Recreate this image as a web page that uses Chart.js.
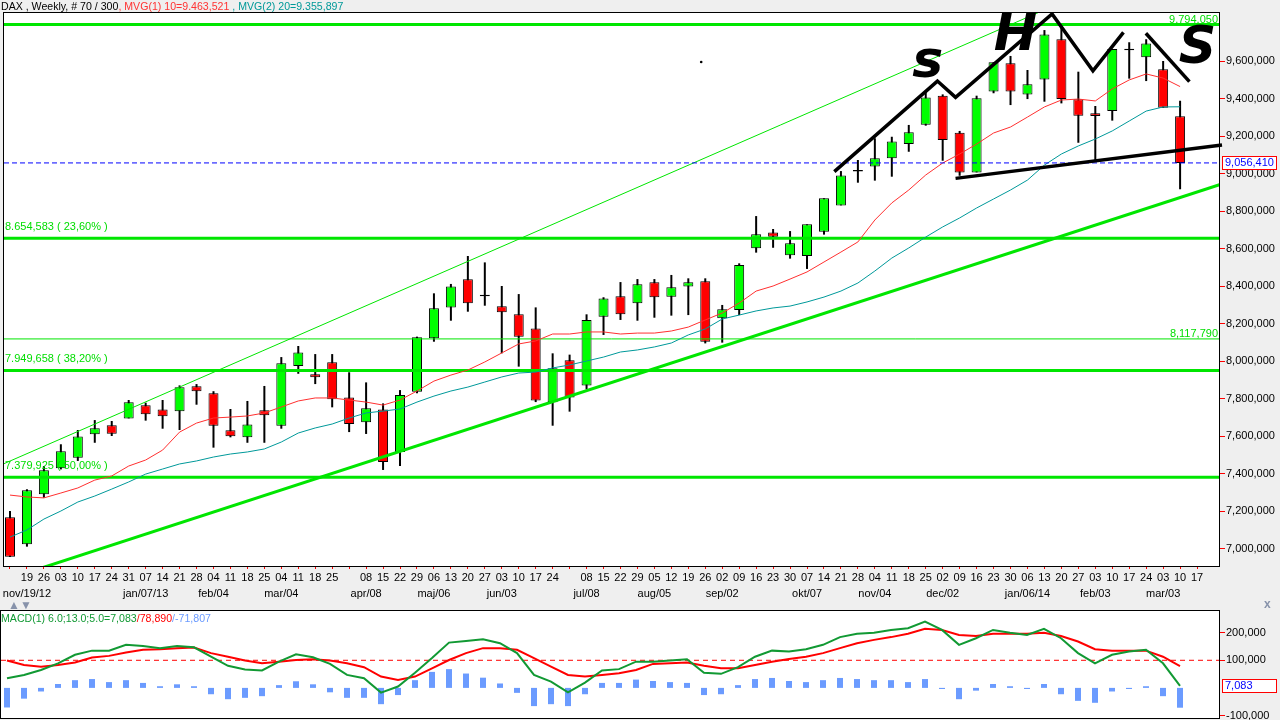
<!DOCTYPE html>
<html>
<head>
<meta charset="utf-8">
<script src="https://cdn.jsdelivr.net/npm/chart.js@4/dist/chart.umd.min.js"></script>
<style>
html, body { margin: 0; padding: 0; background: #efefef; }
body { width: 1280px; height: 720px; position: relative; overflow: hidden;
       font-family: "Liberation Sans", Arial, sans-serif; font-size: 11px; }
canvas { position: absolute; left: 0; }
#main { top: 0; }
#macd { top: 600px; }
.lbl { position: absolute; white-space: pre; line-height: 13px; }
#head, #macdHead { font-size: 10.6px; }
</style>
</head>
<body>
<canvas id="main" width="1280" height="600"></canvas>
<canvas id="macd" width="1280" height="120"></canvas>
<div class="lbl" id="head" style="left:1px;top:0px"></div>
<div class="lbl" style="left:8px;top:599px;color:#8792aa;font-size:12px">&#9650;&#9660;</div>
<div class="lbl" id="macdHead" style="left:1px;top:612px"></div>
<div class="lbl" style="left:1264px;top:598px;color:#8792aa;font-weight:bold;font-size:12px">x</div>
<script>
// DAX weekly, nov/12/12 .. mar/10/14 (70 bars)
const opens  = [7167,7023,7289,7428,7484,7609,7657,7694,7764,7742, 7732,7865,7828,7631,7593,7737,7655,7973,7929,7993,
                7806,7673,7742,7515,7836,8121,8286,8436,8354,8292, 8249,8174,7780,8004,7870,8236,8345,8308,8420,8343,
                8398,8425,8228,8272,8601,8686,8564,8560,8690,8830, 9019,9038,9081,9157,9260,9415,9218,9006,9438,9588,
                9422,9502,9716,9396,9321,9333,9666,9620,9556,9305];
const highs  = [7200,7316,7440,7556,7632,7685,7680,7792,7778,7792, 7870,7877,7839,7744,7787,7867,8021,8080,8037,8037,
                7940,7886,7774,7845,8130,8361,8411,8560,8526,8400, 8357,8286,8041,8034,8249,8340,8421,8437,8437,8459,
                8441,8441,8299,8521,8773,8704,8693,8729,8868,9013, 9072,9188,9196,9259,9436,9422,9227,9415,9593,9627,
                9552,9765,9794,9543,9360,9664,9700,9716,9600,9388];
const lows   = [6955,7010,7271,7422,7467,7564,7600,7694,7682,7639, 7632,7767,7538,7593,7564,7564,7639,7932,7877,7753,
                7621,7611,7419,7440,7828,8103,8215,8263,8295,8041, 7970,7781,7655,7730,7849,8139,8219,8215,8231,8242,
                8245,8094,8098,8245,8578,8604,8546,8491,8674,8830, 8951,8962,8983,9116,9255,9068,8988,9006,9428,9365,
                9397,9383,9374,9164,9072,9282,9506,9493,9351,8916];
const closes = [6956,7311,7417,7519,7598,7641,7612,7780,7716,7705, 7860,7839,7655,7599,7662,7711,7988,8046,7913,7796,
                7664,7748,7461,7819,8127,8281,8398,8308,8346,8260, 8130,7790,7961,7806,8219,8334,8249,8409,8340,8393,
                8420,8103,8276,8512,8676,8663,8628,8729,8868,8990, 9011,9081,9171,9220,9406,9179,9006,9401,9593,9438,
                9476,9742,9397,9308,9307,9664,9658,9694,9351,9056.41];

// moving averages as drawn
const ma10 = [7285,7275,7270,7296,7323,7365,7387,7440,7472,7525, 7621,7669,7696,7701,7707,7723,7755,7787,7803,7803,
              7792,7781,7765,7792,7840,7893,7925,7952,7995,8043, 8091,8107,8144,8144,8155,8155,8144,8149,8149,8160,
              8181,8219,8256,8309,8373,8400,8437,8475,8528,8581, 8635,8752,8843,8912,8992,9056,9104,9157,9216,9248,
              9301,9355,9392,9397,9387,9451,9499,9531,9509,9463.521];
const ma20 = [7061,7099,7157,7200,7248,7280,7317,7355,7397,7424, 7451,7467,7488,7504,7515,7531,7568,7616,7643,7664,
              7696,7723,7733,7744,7781,7813,7840,7861,7888,7915, 7936,7941,7963,7979,8000,8021,8048,8059,8075,8096,
              8139,8171,8224,8245,8267,8283,8293,8315,8341,8373, 8416,8480,8549,8603,8661,8715,8763,8816,8864,8912,
              8965,9045,9104,9147,9184,9227,9280,9333,9355,9355.897];

// MACD(6,13,5) panel
const macdLine   = [35,47,65,89,120,135,135,156,152,144, 152,147,113,80,67,63,95,122,111,87,
                    47,35,-17,5,55,108,164,170,176,162, 126,47,23,-16,19,63,68,95,95,99,
                    104,55,51,75,113,135,132,140,156,184, 196,200,210,216,240,210,156,180,210,200,
                    192,214,180,126,89,120,132,138,89,7.083];
const signalLine = [99,83,77,83,92,110,116,128,138,140, 144,146,126,113,99,89,95,101,104,99,
                    89,75,41,29,41,71,101,126,144,144, 138,108,77,47,41,47,53,65,87,89,
                    92,80,71,71,83,95,105,113,126,144, 162,174,184,196,214,210,192,188,196,196,
                    196,200,188,168,140,135,135,135,113,78.89];
const histogram  = [-71,-39,-13,14,28,32,21,28,18,6, 13,6,-23,-41,-36,-30,10,24,13,-16,
                    -36,-36,-59,-26,28,58,68,52,37,16, -18,-66,-59,-66,-23,18,18,30,25,21,
                    18,-26,-23,10,32,36,25,21,28,36, 32,28,28,21,32,-4,-41,-10,14,6,
                    -4,14,-23,-47,-54,-13,-4,6,-30,-71.807];
const macdLevel = 100;

// x axis labels (week day / month)
const dayLabels = ['', '19','26','03','10','17','24','31','07','14','21','28','04','11','18','25','04','11','18','25',
                   '', '08','15','22','29','06','13','20','27','03','10','17','24', '', '08','15','22','29','05','12',
                   '19','26','02','09','16','23','30','07','14','21','28','04','11','18','25','02','09','16','23','30',
                   '06','13','20','27','03','10','17','24','03','10','17'];
const monthMarks = [[1,'nov/19/12'],[8,'jan/07/13'],[12,'feb/04'],[16,'mar/04'],[21,'apr/08'],[25,'maj/06'],
                    [29,'jun/03'],[34,'jul/08'],[38,'aug/05'],[42,'sep/02'],[47,'okt/07'],[51,'nov/04'],
                    [55,'dec/02'],[60,'jan/06/14'],[64,'feb/03'],[68,'mar/03']];
const priceTicks = [7000,7200,7400,7600,7800,8000,8200,8400,8600,8800,9000,9200,9400,9600];
const macdTicks = [-100, 100, 200];

// horizontal levels (high + retracements)
const fibLevels   = [9794.05, 8654.583, 8117.79, 7949.658, 7379.925];
const fibPercents = [null, '23,60', null, '38,20', '50,00'];

// hand drawn lines, [week index, price]
const upperChannel  = [[-1, 7427], [62, 9912]];
const lowerChannel  = [[-1, 6812], [72, 8960]];
const neckline      = [[55.76, 8974], [71.47, 9152]];
const hsLine        = [[48.61, 9010], [54.69, 9493], [55.76, 9406], [61.45, 9851], [63.86, 9548], [65.66, 9753]];
const rightShoulder = [[66.98, 9748], [69.55, 9490]];
const strayMark     = [[40.76, 9595]];
const hsLetters     = [['s', 54.12, 9515], ['H', 59.29, 9659], ['S', 70.03, 9589]];

const FONT = '"Liberation Sans", Arial, sans-serif';
const X_MIN = -0.353, X_MAX = 71.294;
const last = closes.length - 1;

const group = (s, sep) => s.replace(/\B(?=(\d{3})+(?!\d))/g, sep);
function fmt(v) {      // 9,600,000 style
    const p = Math.abs(v).toFixed(3).split('.');
    return (v < 0 ? '-' : '') + group(p[0], ',') + ',' + p[1];
}
function fmtDot(v) {   // 9.463,521 style
    const p = Math.abs(v).toFixed(3).split('.');
    return (v < 0 ? '-' : '') + group(p[0], '.') + ',' + p[1];
}
const pts = list => list.map(([x, y]) => ({x, y}));
const flat = v => [{x: X_MIN, y: v}, {x: X_MAX, y: v}];
function lineDs(data, color, width, extra) {
    return Object.assign({type: 'line', data, borderColor: color, borderWidth: width,
                          pointRadius: 0, tension: 0, fill: false}, extra || {});
}

document.getElementById('head').innerHTML =
    '<span>DAX , Weekly, # 70 / 300</span>' +
    '<span style="color:#ff3333">, MVG(1) 10=' + fmtDot(ma10[last]) + '</span>' +
    '<span style="color:#009999"> , MVG(2) 20=' + fmtDot(ma20[last]) + '</span>';
document.getElementById('macdHead').innerHTML =
    '<span style="color:#119933">MACD(1) 6.0;13.0;5.0=' + fmt(macdLine[last]) + '</span>' +
    '<span style="color:#ff0000">/' + fmt(signalLine[last]) + '</span>' +
    '<span style="color:#6b9bff">/' + fmt(histogram[last]) + '</span>';

// grey page, white plot, black frame
const panel = {
    id: 'panel',
    beforeDraw(chart) {
        const {ctx, chartArea: a, width, height} = chart;
        ctx.save();
        ctx.fillStyle = '#efefef';
        ctx.fillRect(0, 0, width, height);
        ctx.fillStyle = '#fff';
        ctx.fillRect(a.left, a.top, a.right - a.left, a.bottom - a.top);
        ctx.restore();
    },
    afterDraw(chart) {
        const {ctx, chartArea: a} = chart;
        ctx.save();
        ctx.strokeStyle = '#000';
        ctx.lineWidth = 1;
        ctx.strokeRect(a.left - 0.5, a.top - 0.5, a.right - a.left + 1, a.bottom - a.top + 1);
        ctx.restore();
    }
};

function valueBox(chart, value) {
    const {ctx, chartArea: a, scales: {y}} = chart;
    const cy = Math.round(y.getPixelForValue(value));
    ctx.save();
    ctx.fillStyle = '#fff';
    ctx.fillRect(a.right + 3, cy - 7, 54, 13);
    ctx.strokeStyle = '#ff0000';
    ctx.lineWidth = 1;
    ctx.strokeRect(a.right + 3.5, cy - 6.5, 54, 13);
    ctx.fillStyle = '#0000ff';
    ctx.font = '11px ' + FONT;
    ctx.textAlign = 'left';
    ctx.textBaseline = 'middle';
    ctx.fillText(fmt(value), a.right + 6, cy);
    ctx.restore();
}

const notes = {
    id: 'notes',
    afterDatasetsDraw(chart) {
        const {ctx, chartArea: a, scales: {x, y}} = chart;
        ctx.save();
        ctx.beginPath();
        ctx.rect(a.left, a.top, a.right - a.left, a.bottom - a.top);
        ctx.clip();
        ctx.font = '11px ' + FONT;
        ctx.fillStyle = '#00dd00';
        fibLevels.forEach((lv, k) => {
            const py = y.getPixelForValue(lv);
            if (fibPercents[k]) {
                ctx.textAlign = 'left';
                ctx.fillText(fmtDot(lv) + ' ( ' + fibPercents[k] + '% )', a.left + 1, py - 8);
            } else {
                ctx.textAlign = 'right';
                ctx.fillText(fmt(lv), a.right - 1, py - 1.5);
            }
        });
        ctx.fillStyle = '#000';
        ctx.font = 'italic bold 52px "DejaVu Sans"';
        ctx.textAlign = 'center';
        hsLetters.forEach(([t, i, v]) => ctx.fillText(t, x.getPixelForValue(i), y.getPixelForValue(v)));
        ctx.restore();
    },
    afterDraw(chart) { valueBox(chart, closes[last]); }
};

const mainSets = [
    lineDs(pts(hsLine), '#000', 3.5),
    lineDs(pts(rightShoulder), '#000', 3.5),
    lineDs(pts(neckline), '#000', 3.5, {clip: {left: 0, top: 0, right: 4, bottom: 0}}),
    lineDs(pts(strayMark), '#000', 0, {showLine: false, pointRadius: 1.3, pointBackgroundColor: '#000', pointBorderWidth: 0}),
    lineDs(flat(closes[last]), '#0000ff', 1, {borderDash: [5, 3]}),
    lineDs(ma10.map((v, i) => ({x: i, y: v})), '#ff3030', 1),
    lineDs(ma20.map((v, i) => ({x: i, y: v})), '#00999a', 1),
    ...fibLevels.map((lv, k) => lineDs(flat(lv), '#00e600', (fibPercents[k] || k === 0) ? 3 : 1)),
    lineDs(pts(upperChannel), '#00e600', 1),
    lineDs(pts(lowerChannel), '#00e600', 3),
    { type: 'bar', data: opens.map((o, i) => ({x: i, y: [o, closes[i]]})),
      backgroundColor: opens.map((o, i) => closes[i] >= o ? '#00ff00' : '#ff0000'),
      borderColor: '#000', borderWidth: 1, borderSkipped: false, inflateAmount: 0,
      barThickness: 10, grouped: false },
    { type: 'bar', data: lows.map((l, i) => ({x: i, y: [l, highs[i]]})),
      backgroundColor: '#000', borderWidth: 0, inflateAmount: 0, barThickness: 2, grouped: false }
];

const tickFont = {family: FONT, size: 11, lineHeight: 1.45};

new Chart(document.getElementById('main'), {
    type: 'bar',
    data: {datasets: mainSets},
    options: {
        responsive: false, animation: false, events: [],
        layout: {padding: {left: 1, top: 13, right: 0, bottom: 0}},
        plugins: {legend: {display: false}, tooltip: {enabled: false}},
        scales: {
            x: {
                type: 'linear', min: X_MIN, max: X_MAX, offset: false,
                grid: {offset: false, drawOnChartArea: false, tickLength: 3, tickColor: '#ff0000'},
                border: {display: false},
                afterBuildTicks: s => { s.ticks = dayLabels.map((_, i) => ({value: i})); },
                afterFit: s => { s.height = 34; s.paddingLeft = 0; s.paddingRight = 0; },
                ticks: {
                    autoSkip: false, maxRotation: 0, minRotation: 0, padding: 1, color: '#000', font: tickFont,
                    callback: v => {
                        const m = monthMarks.find(mm => mm[0] === v);
                        return [dayLabels[v] || '', m ? m[1] : ''];
                    }
                }
            },
            y: {
                type: 'linear', position: 'right', min: 6906.8, max: 9856,
                grid: {drawOnChartArea: false, tickLength: 6, tickColor: '#ff0000'},
                border: {display: false},
                afterBuildTicks: s => { s.ticks = priceTicks.map(v => ({value: v})); },
                afterFit: s => { s.width = 61; s.paddingTop = 0; s.paddingBottom = 0; },
                ticks: {padding: 1, color: '#000', font: {family: FONT, size: 11}, callback: v => fmt(v)}
            }
        }
    },
    plugins: [panel, notes]
});

new Chart(document.getElementById('macd'), {
    type: 'bar',
    data: {datasets: [
        lineDs(macdLine.map((v, i) => ({x: i, y: v})), '#119933', 2),
        lineDs(signalLine.map((v, i) => ({x: i, y: v})), '#ff0000', 2),
        lineDs(flat(macdLevel), '#ff0000', 1, {borderDash: [5, 4]}),
        { type: 'bar', data: histogram.map((v, i) => ({x: i, y: v})), backgroundColor: '#6b9bff',
          borderWidth: 0, inflateAmount: 0, barThickness: 6, grouped: false }
    ]},
    options: {
        responsive: false, animation: false, events: [],
        layout: {padding: {left: 1, top: 11, right: 0, bottom: 2}},
        plugins: {legend: {display: false}, tooltip: {enabled: false}},
        scales: {
            x: {type: 'linear', min: X_MIN, max: X_MAX, offset: false, display: false, grid: {offset: false}},
            y: {
                type: 'linear', position: 'right', min: -109.1, max: 278.6,
                grid: {drawOnChartArea: false, tickLength: 6, tickColor: '#ff0000'},
                border: {display: false},
                afterBuildTicks: s => { s.ticks = macdTicks.map(v => ({value: v})); },
                afterFit: s => { s.width = 61; s.paddingTop = 0; s.paddingBottom = 0; },
                ticks: {padding: 1, color: '#000', font: {family: FONT, size: 11}, callback: v => fmt(v)}
            }
        }
    },
    plugins: [panel, {id: 'lastMacd', afterDraw(chart) { valueBox(chart, macdLine[last]); }}]
});
</script>
</body>
</html>
